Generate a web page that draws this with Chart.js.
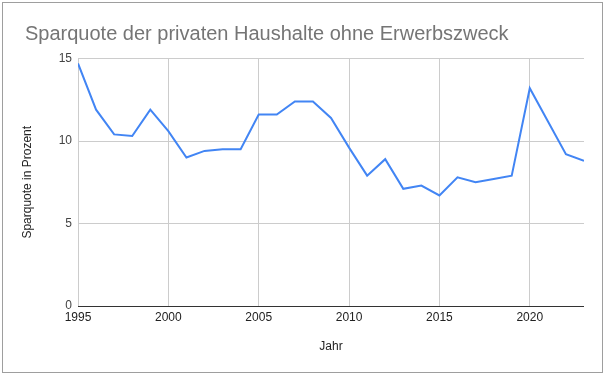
<!DOCTYPE html>
<html>
<head>
<meta charset="utf-8">
<script src="https://cdn.jsdelivr.net/npm/chart.js@4"></script>
<style>
  body { margin: 0; background: #fff; }
  canvas { display: block; }
</style>
</head>
<body>
<canvas id="chart" width="604" height="375"></canvas>
<script>
const years = [1995, 1996, 1997, 1998, 1999, 2000, 2001, 2002, 2003, 2004,
  2005, 2006, 2007, 2008, 2009, 2010, 2011, 2012, 2013, 2014,
  2015, 2016, 2017, 2018, 2019, 2020, 2021, 2022, 2023];
const sparquote = [14.7, 11.9, 10.4, 10.3, 11.9, 10.6, 9.0, 9.4, 9.5, 9.5,
  11.6, 11.6, 12.4, 12.4, 11.4, 9.6, 7.9, 8.9, 7.1, 7.3,
  6.7, 7.8, 7.5, 7.7, 7.9, 13.2, 11.2, 9.2, 8.8];
const xTicks = [1995, 2000, 2005, 2010, 2015, 2020];
const yTicks = [0, 5, 10, 15];

const fontFamily = "'Liberation Sans', Arial, sans-serif";

// grey frame around the whole chart
const framePlugin = {
  id: 'frame',
  beforeDraw(chart) {
    const ctx = chart.ctx;
    ctx.save();
    ctx.fillStyle = '#fff';
    ctx.fillRect(0, 0, chart.width, chart.height);
    ctx.strokeStyle = '#9e9e9e';
    ctx.lineWidth = 1;
    ctx.strokeRect(2.5, 2.5, 600, 370);
    ctx.restore();
  }
};

new Chart(document.getElementById('chart'), {
  type: 'line',
  data: {
    datasets: [{
      label: 'Sparquote',
      data: years.map((year, i) => ({ x: year, y: sparquote[i] })),
      borderColor: '#4285f4',
      borderWidth: 2,
      pointRadius: 0,
      tension: 0,
      fill: false
    }]
  },
  options: {
    responsive: false,
    animation: false,
    layout: { padding: { left: 25, right: 20, top: 10, bottom: 5 } },
    plugins: {
      legend: { display: false },
      tooltip: { enabled: false },
      title: {
        display: true,
        text: 'Sparquote der privaten Haushalte ohne Erwerbszweck',
        align: 'start',
        color: '#757575',
        font: { family: fontFamily, size: 20, weight: 'normal' },
        padding: { top: 12, bottom: 12.5 }
      }
    },
    scales: {
      x: {
        type: 'linear',
        min: years[0],
        max: years[years.length - 1],
        afterBuildTicks: (axis) => {
          axis.ticks = xTicks.map((v) => ({ value: v }));
        },
        afterFit: (scale) => { scale.height = 64; },
        border: { display: false },
        grid: { color: '#cccccc', drawTicks: false },
        ticks: {
          padding: 4,
          color: '#222',
          font: { family: fontFamily, size: 12 },
          maxRotation: 0,
          callback: (v) => String(v)
        },
        title: {
          display: true,
          text: 'Jahr',
          color: '#222',
          font: { family: fontFamily, size: 12 },
          padding: { top: 0, bottom: 16 }
        }
      },
      y: {
        min: 0,
        max: 15,
        afterBuildTicks: (axis) => {
          axis.ticks = yTicks.map((v) => ({ value: v }));
        },
        afterFit: (scale) => { scale.width = 53; },
        border: { display: false },
        grid: {
          color: (c) => (c.tick && c.tick.value === 0 ? '#333333' : '#cccccc'),
          drawTicks: false
        },
        ticks: {
          padding: 6,
          color: '#444',
          font: { family: fontFamily, size: 12 }
        },
        title: {
          display: true,
          text: 'Sparquote in Prozent',
          color: '#222',
          font: { family: fontFamily, size: 12 },
          padding: { top: -5, bottom: 0 }
        }
      }
    }
  },
  plugins: [framePlugin]
});
</script>
</body>
</html>
